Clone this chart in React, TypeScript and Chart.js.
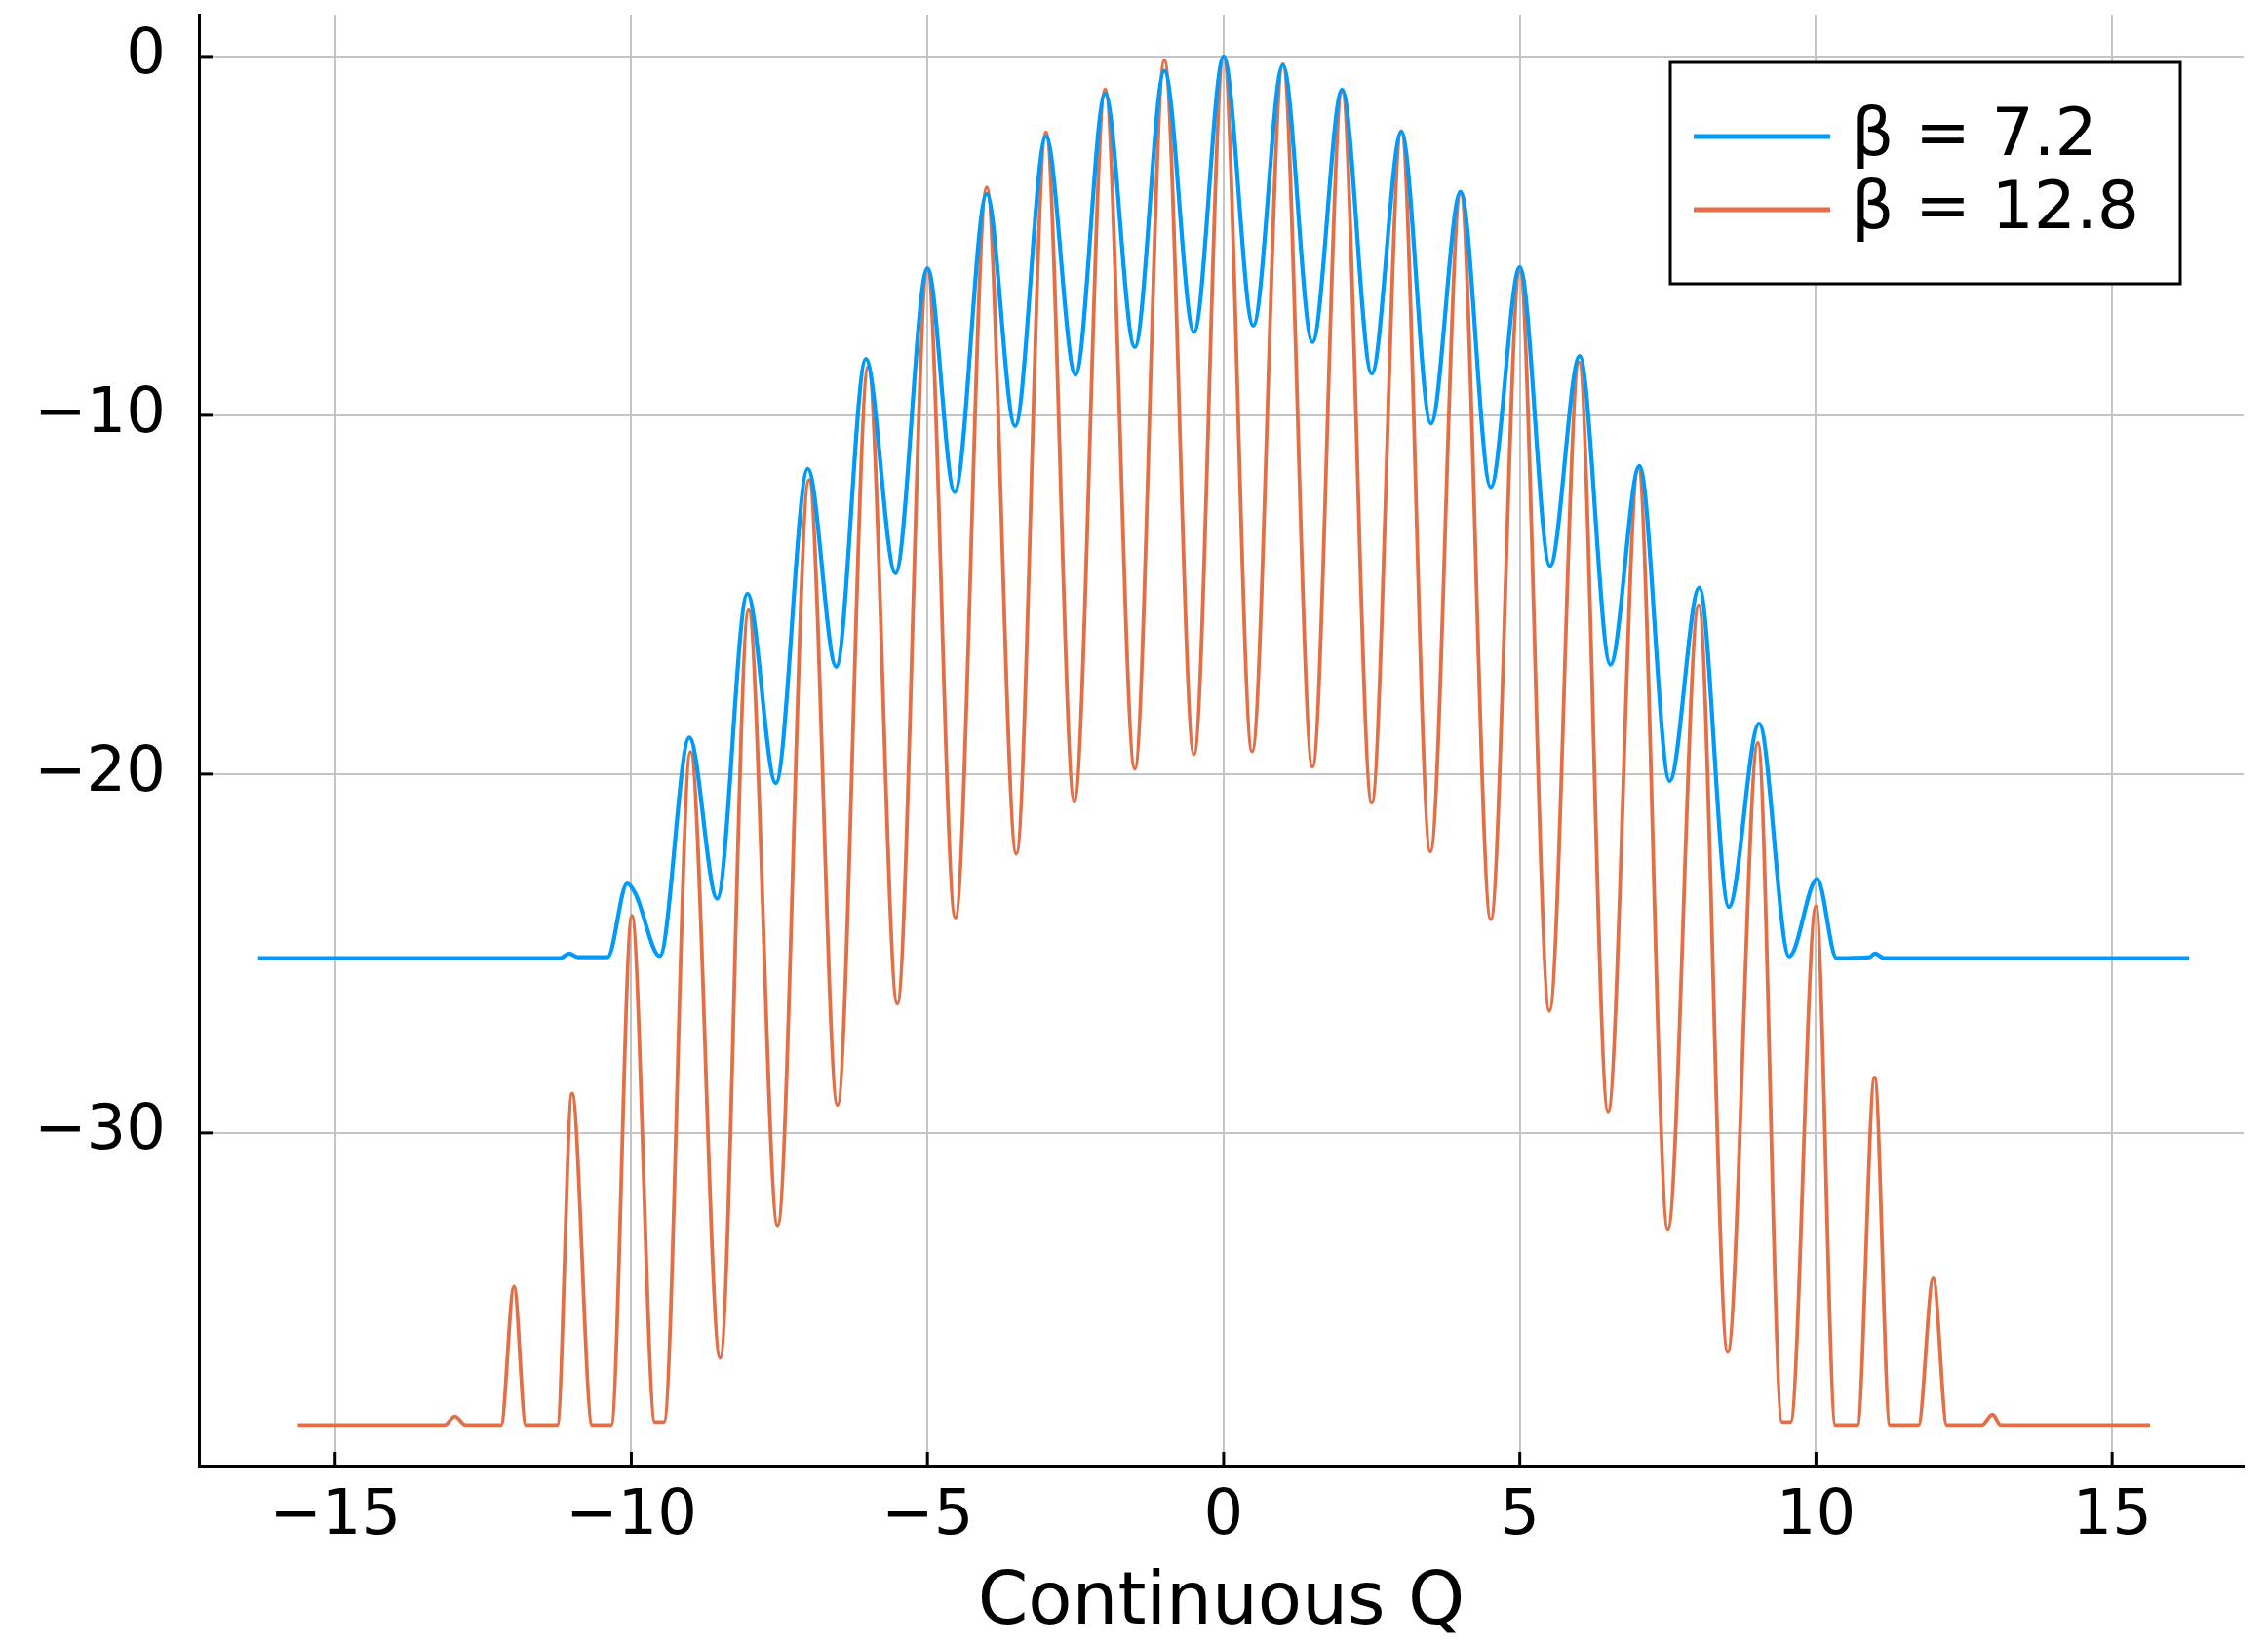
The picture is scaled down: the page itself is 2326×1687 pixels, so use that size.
import React, { useEffect, useRef } from 'react';
import { Chart, registerables } from 'chart.js';

Chart.register(...registerables);

// β = 7.2 series
const blueX = [
  -16.3, -11.2, -11.05, -10.9, -10.4, -10.07, -9.93, -9.52, -9.02, -8.55, -8.04, -7.56, -7.02, -6.54,
  -6.04, -5.54, -5.0, -4.54, -4.0, -3.52, -3.0, -2.5, -2.0, -1.5, -1.0, -0.5, 0, 0.5, 1.0, 1.5, 2.0,
  2.5, 3.0, 3.5, 4.0, 4.51, 5.0, 5.51, 6.01, 6.53, 7.02, 7.53, 8.03, 8.53, 9.04, 9.55, 10.02, 10.35,
  10.9, 11.0, 11.15, 16.3,
];
const blueY = [
  -25.13, -25.13, -25.0, -25.1, -25.1, -23.05, -23.33, -25.07, -18.98, -23.47, -14.97, -20.25, -11.49, -17.01,
  -8.43, -14.4, -5.9, -12.14, -3.83, -10.3, -2.23, -8.87, -1.04, -8.1, -0.4, -7.68, 0, -7.5, -0.24, -7.96, -0.92,
  -8.84, -2.1, -10.23, -3.77, -12.0, -5.87, -14.2, -8.35, -16.95, -11.41, -20.19, -14.8, -23.7, -18.59, -25.08, -22.92, -25.13,
  -25.1, -25.0, -25.13, -25.13,
];

// β = 12.8 series
const orangeX = [
  -15.63, -13.15, -12.98, -12.8, -12.2, -11.98, -11.78, -11.25, -11.0, -10.66, -10.34, -9.99, -9.6, -9.45,
  -9.0, -8.5, -8.02, -7.53, -7.0, -6.52, -6.0, -5.51, -5.0, -4.53, -4.0, -3.5, -3.0, -2.52, -2.0, -1.5,
  -1.0, -0.5, 0, 0.48, 1.0, 1.5, 2.0, 2.5, 3.0, 3.49, 4.0, 4.51, 5.0, 5.5, 6.0, 6.49, 7.0, 7.5, 8.02,
  8.51, 9.02, 9.43, 9.57, 10.0, 10.33, 10.7, 10.99, 11.25, 11.73, 11.98, 12.21, 12.8, 12.98, 13.12, 15.64,
];
const orangeY = [
  -38.14, -38.14, -37.9, -38.14, -38.14, -34.28, -38.14, -38.14, -28.9, -38.14, -38.14, -23.95, -38.06, -38.06,
  -19.38, -36.27, -15.43, -32.58, -11.8, -29.22, -8.64, -26.4, -5.96, -24.0, -3.65, -22.22, -2.11, -20.75, -0.92, -19.85,
  -0.1, -19.45, 0, -19.37, -0.22, -19.8, -0.98, -20.8, -2.08, -22.16, -3.82, -24.05, -5.99, -26.6, -8.52, -29.4, -11.46, -32.68, -15.29,
  -36.11, -19.13, -38.06, -38.06, -23.68, -38.14, -38.14, -28.45, -38.14, -38.14, -34.05, -38.14, -38.14, -37.85, -38.14, -38.14,
];

const seriesLabels = ['β = 7.2', 'β = 12.8'];
const seriesColors = ['#009AFA', '#E26F46'];

const xTicks = [-15, -10, -5, 0, 5, 10, 15];
const yTicks = [-30, -20, -10, 0];
const xTitle = 'Continuous Q';

const FONT = '"DejaVu Sans", sans-serif';

const fmt = (v: number) => (v < 0 ? '\u2212' + Math.abs(v) : String(v));

const innerTicksPlugin = {
  id: 'innerTicks',
  afterDraw(chart: any) {
    const { ctx, chartArea: a, scales } = chart;
    ctx.save();
    ctx.strokeStyle = '#000';
    ctx.lineWidth = 3;
    xTicks.forEach((v) => {
      const p = scales.x.getPixelForValue(v);
      ctx.beginPath();
      ctx.moveTo(p, a.bottom);
      ctx.lineTo(p, a.bottom - 14);
      ctx.stroke();
    });
    yTicks.forEach((v) => {
      const p = scales.y.getPixelForValue(v);
      ctx.beginPath();
      ctx.moveTo(a.left, p);
      ctx.lineTo(a.left + 14, p);
      ctx.stroke();
    });
    ctx.restore();
  },
};

const boxLegendPlugin = {
  id: 'boxLegend',
  afterDraw(chart: any) {
    const { ctx, chartArea: a } = chart;
    const w = 523;
    const h = 227;
    const right = a.right - 65;
    const left = right - w;
    const top = a.top + 49;
    ctx.save();
    ctx.fillStyle = '#ffffff';
    ctx.fillRect(left, top, w, h);
    ctx.lineWidth = 3;
    ctx.strokeStyle = '#000';
    ctx.strokeRect(left, top, w, h);
    chart.data.datasets.forEach((ds: any, i: number) => {
      const y = top + 76 + i * 75;
      ctx.strokeStyle = ds.borderColor;
      ctx.lineWidth = 5;
      ctx.beginPath();
      ctx.moveTo(left + 24, y);
      ctx.lineTo(left + 164, y);
      ctx.stroke();
      ctx.fillStyle = '#000';
      ctx.font = `68px ${FONT}`;
      ctx.textBaseline = 'middle';
      ctx.textAlign = 'left';
      ctx.fillText(ds.label, left + 186, y + 1);
    });
    ctx.restore();
  },
};

export default function App() {
  const ref = useRef<HTMLCanvasElement | null>(null);

  useEffect(() => {
    if (!ref.current) return;
    const chart = new Chart(ref.current, {
      type: 'line',
      data: {
        datasets: [
          {
            label: seriesLabels[0],
            data: blueX.map((x, i) => ({ x, y: blueY[i] })),
            borderColor: seriesColors[0],
            backgroundColor: seriesColors[0],
            borderWidth: 4.2,
            pointRadius: 0,
            cubicInterpolationMode: 'monotone',
            fill: false,
          },
          {
            label: seriesLabels[1],
            data: orangeX.map((x, i) => ({ x, y: orangeY[i] })),
            borderColor: seriesColors[1],
            backgroundColor: seriesColors[1],
            borderWidth: 3.8,
            pointRadius: 0,
            cubicInterpolationMode: 'monotone',
            fill: false,
          },
        ],
      },
      options: {
        responsive: false,
        animation: false,
        devicePixelRatio: 1,
        events: [],
        layout: { padding: { top: 15, right: 25, bottom: 0, left: 0 } },
        plugins: {
          legend: { display: false },
          tooltip: { enabled: false },
        },
        scales: {
          x: {
            type: 'linear',
            min: -17.3,
            max: 17.22,
            afterBuildTicks: (s: any) => {
              s.ticks = xTicks.map((v) => ({ value: v }));
            },
            afterFit: (s: any) => {
              s.height = 184;
              s.paddingLeft = 0;
              s.paddingRight = 0;
            },
            grid: { color: '#c4c4c4', lineWidth: 2, drawTicks: false },
            border: { display: true, color: '#000', width: 3 },
            ticks: {
              padding: 15,
              color: '#000',
              font: { family: FONT, size: 64 },
              maxRotation: 0,
              callback: (v: any) => fmt(Number(v)),
            },
            title: {
              display: true,
              text: xTitle,
              color: '#000',
              font: { family: FONT, size: 74 },
              padding: { top: 0, bottom: -3 },
            },
          },
          y: {
            type: 'linear',
            min: -39.27,
            max: 1.166,
            afterBuildTicks: (s: any) => {
              s.ticks = yTicks.map((v) => ({ value: v }));
            },
            afterFit: (s: any) => {
              s.width = 204;
              s.paddingTop = 0;
              s.paddingBottom = 0;
            },
            grid: { color: '#c4c4c4', lineWidth: 2, drawTicks: false },
            border: { display: true, color: '#000', width: 3 },
            ticks: {
              padding: 34,
              color: '#000',
              font: { family: FONT, size: 64 },
              callback: (v: any) => fmt(Number(v)),
            },
          },
        },
      },
      plugins: [innerTicksPlugin, boxLegendPlugin],
    } as any);
    return () => chart.destroy();
  }, []);

  return (
    <div style={{ position: 'absolute', left: 0, top: 0, width: 2326, height: 1687, background: '#fff' }}>
      <canvas ref={ref} width={2326} height={1687} style={{ display: 'block', width: 2326, height: 1687 }} />
    </div>
  );
}
